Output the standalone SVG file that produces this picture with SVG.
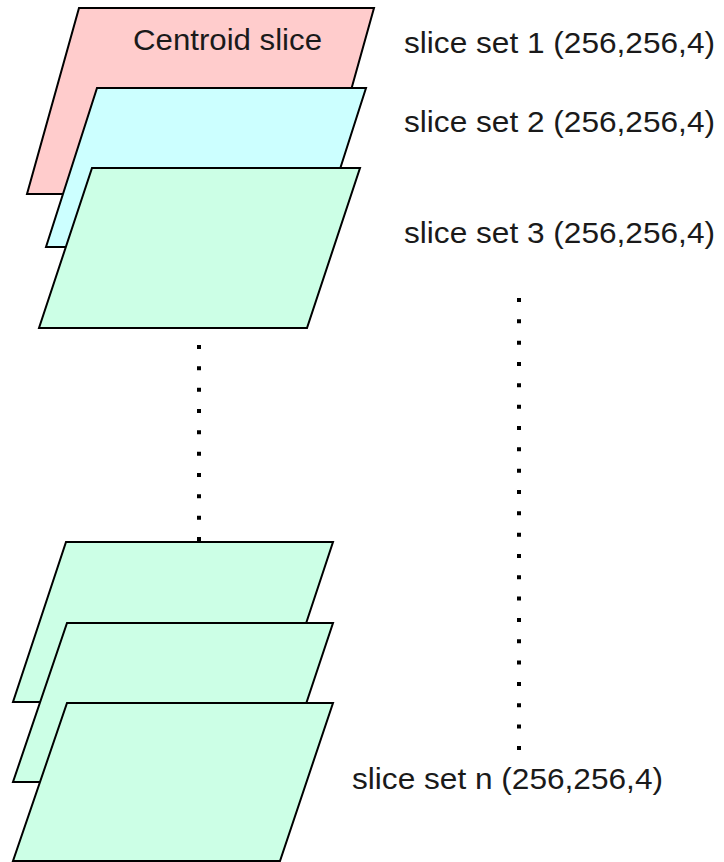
<svg xmlns="http://www.w3.org/2000/svg" width="724" height="862" viewBox="0 0 724 862">
  <style>
    .slice { stroke: #000; stroke-width: 2; stroke-linejoin: miter; }
    .pink { fill: #ffcccc; }
    .cyan { fill: #ccffff; }
    .mint { fill: #ccffe6; }
    .label { font-family: "Liberation Sans", Arial, sans-serif; font-size: 30px; fill: #1a1a1a; }
    .dots { stroke: #000; stroke-width: 4; stroke-dasharray: 4 17.33; fill: none; }
  </style>
  <rect width="724" height="862" fill="#fff"/>

  <!-- top stack of slices -->
  <g id="slice1">
    <polygon class="slice pink" points="79,8 374,8 322,194 27,194"/>
    <text class="label" x="133" y="50" font-size="29" textLength="189" lengthAdjust="spacingAndGlyphs">Centroid slice</text>
  </g>
  <g id="slice2">
    <polygon class="slice cyan" points="97,88 366,88 315,247 46,247"/>
  </g>
  <g id="slice3">
    <polygon class="slice mint" points="92,168 360,168 307,328 39,328"/>
  </g>

  <!-- bottom stack of slices -->
  <g id="sliceA">
    <polygon class="slice mint" points="66,542 333,542 280,702 13,702"/>
  </g>
  <g id="sliceB">
    <polygon class="slice mint" points="67,623 333,623 280,782 13,782"/>
  </g>
  <g id="sliceC">
    <polygon class="slice mint" points="67,703 333,703 280,861 13,861"/>
  </g>

  <!-- labels -->
  <g id="labels">
    <text class="label" x="404" y="53" textLength="311" lengthAdjust="spacingAndGlyphs">slice set 1 (256,256,4)</text>
    <text class="label" x="404" y="132" textLength="311" lengthAdjust="spacingAndGlyphs">slice set 2 (256,256,4)</text>
    <text class="label" x="404" y="243" textLength="311" lengthAdjust="spacingAndGlyphs">slice set 3 (256,256,4)</text>
    <text class="label" x="352" y="789" textLength="311" lengthAdjust="spacingAndGlyphs">slice set n (256,256,4)</text>
  </g>

  <!-- dotted continuation lines -->
  <g id="connectors">
    <line class="dots" x1="199" y1="345" x2="199" y2="542"/>
    <line class="dots" x1="519" y1="298" x2="519" y2="751"/>
  </g>
</svg>
